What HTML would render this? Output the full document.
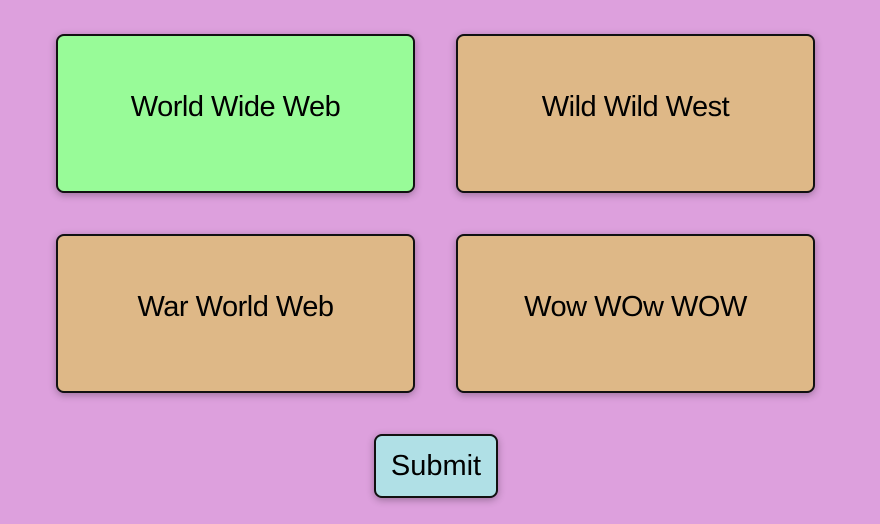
<!DOCTYPE html>
<html><head><style>
html,body{margin:0;padding:0;}
body{width:880px;height:524px;background:#DDA0DD;position:relative;overflow:hidden;font-family:"Liberation Sans",sans-serif;}
.b{position:absolute;box-sizing:border-box;width:359px;height:159px;border:2px solid #111;border-radius:8px;display:flex;align-items:center;justify-content:center;font-size:29px;color:#000;box-shadow:0 2px 8px rgba(0,0,0,0.3);letter-spacing:-0.5px;padding-bottom:12px;}
.t{background:#DEB887;}
.btn{position:absolute;left:374px;top:434px;width:124px;height:64px;box-sizing:border-box;background:#B0E0E6;border:2px solid #111;border-radius:8px;display:flex;align-items:center;justify-content:center;font-size:29px;box-shadow:0 2px 8px rgba(0,0,0,0.3);}
</style></head><body>
<div class="b" style="left:56px;top:34px;background:#98FB98;">World Wide Web</div>
<div class="b t" style="left:456px;top:34px;">Wild Wild West</div>
<div class="b t" style="left:56px;top:234px;">War World Web</div>
<div class="b t" style="left:456px;top:234px;">Wow WOw WOW</div>
<div class="btn">Submit</div>
</body></html>
